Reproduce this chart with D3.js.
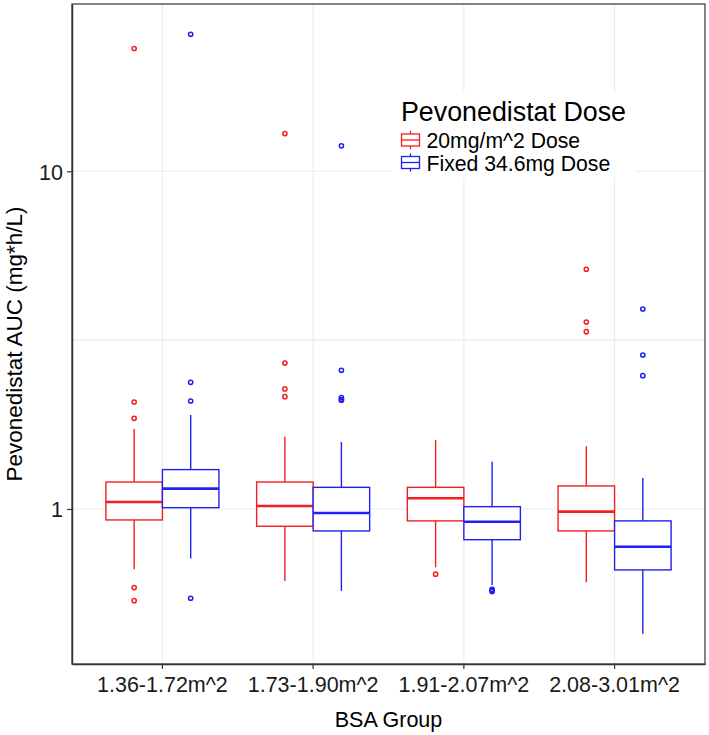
<!DOCTYPE html>
<html>
<head>
<meta charset="utf-8">
<script src="https://cdn.jsdelivr.net/npm/d3@7"></script>
<style>
  html, body { margin: 0; padding: 0; background: #fff; }
  svg { display: block; font-family: "Liberation Sans", Arial, sans-serif; }
</style>
</head>
<body>
<svg id="chart" width="709" height="735"></svg>
<script>
// ---- data ----
const categories = ["1.36-1.72m^2", "1.73-1.90m^2", "1.91-2.07m^2", "2.08-3.01m^2"];
const doses = ["20mg/m^2 Dose", "Fixed 34.6mg Dose"];
const doseColors = ["#f21f1f", "#2020f0"];

// 20mg/m^2 Dose (red)
const redLower  = [0.663, 0.612, 0.672, 0.607];
const redQ1     = [0.928, 0.889, 0.922, 0.861];
const redMedian = [1.049, 1.021, 1.076, 0.982];
const redQ3     = [1.202, 1.202, 1.159, 1.170];
const redUpper  = [1.725, 1.637, 1.601, 1.533];
const redOutliers = [
  [23.1, 2.074, 1.856, 0.585, 0.535],
  [12.93, 2.705, 2.267, 2.150],
  [0.641],
  [5.127, 3.579, 3.350]
];

// Fixed 34.6mg Dose (blue)
const blueLower  = [0.714, 0.572, 0.596, 0.427];
const blueQ1     = [1.009, 0.861, 0.811, 0.660];
const blueMedian = [1.149, 0.973, 0.917, 0.773];
const blueQ3     = [1.308, 1.159, 1.016, 0.922];
const blueUpper  = [1.898, 1.579, 1.381, 1.235];
const blueOutliers = [
  [25.45, 2.372, 2.088, 0.544],
  [11.9, 2.575, 2.136, 2.110, 2.100],
  [0.578, 0.574, 0.570],
  [3.91, 2.858, 2.481]
];

const yTicks = [1, 10];
const yMinorGrid = [Math.sqrt(10)];
const xTitle = "BSA Group";
const yTitle = "Pevonedistat AUC (mg*h/L)";
const legendTitle = "Pevonedistat Dose";

// ---- build ----
const series = [
  {lower: redLower, q1: redQ1, median: redMedian, q3: redQ3, upper: redUpper, outliers: redOutliers},
  {lower: blueLower, q1: blueQ1, median: blueMedian, q3: blueQ3, upper: blueUpper, outliers: blueOutliers}
];

const svg = d3.select("#chart");
const panel = {left: 72, right: 705, top: 4, bottom: 664};

const x = d3.scaleBand().domain(categories).range([panel.left, panel.right]).paddingInner(0).paddingOuter(0.1);
const step = x.step();
const xSub = d3.scaleBand().domain(doses).range([-0.375 * step, 0.375 * step]);
const y = d3.scaleLog().domain([0.3475, 31.29]).range([panel.bottom, panel.top]);

// panel background
svg.append("rect").attr("x", panel.left).attr("y", panel.top)
  .attr("width", panel.right - panel.left).attr("height", panel.bottom - panel.top)
  .attr("fill", "#fff");

// grid
const grid = svg.append("g").attr("stroke", "#ebebeb").attr("stroke-width", 1.1);
yTicks.concat(yMinorGrid).forEach(v => {
  grid.append("line").attr("x1", panel.left).attr("x2", panel.right)
    .attr("y1", y(v)).attr("y2", y(v));
});
categories.forEach(c => {
  const cx = x(c) + x.bandwidth() / 2;
  grid.append("line").attr("x1", cx).attr("x2", cx).attr("y1", panel.top).attr("y2", panel.bottom);
});

// boxes
const boxes = svg.append("g");
categories.forEach((c, i) => {
  const cx = x(c) + x.bandwidth() / 2;
  series.forEach((s, k) => {
    const col = doseColors[k];
    const bx = cx + xSub(doses[k]);
    const bw = xSub.bandwidth();
    const mx = bx + bw / 2;
    const g = boxes.append("g").attr("stroke", col).attr("fill", "none");
    g.append("line").attr("x1", mx).attr("x2", mx).attr("y1", y(s.q3[i])).attr("y2", y(s.upper[i])).attr("stroke-width", 1.4);
    g.append("line").attr("x1", mx).attr("x2", mx).attr("y1", y(s.q1[i])).attr("y2", y(s.lower[i])).attr("stroke-width", 1.4);
    g.append("rect").attr("x", bx).attr("y", y(s.q3[i])).attr("width", bw)
      .attr("height", y(s.q1[i]) - y(s.q3[i])).attr("fill", "#fff").attr("stroke-width", 1.4);
    g.append("line").attr("x1", bx).attr("x2", bx + bw).attr("y1", y(s.median[i])).attr("y2", y(s.median[i])).attr("stroke-width", 2.6);
    s.outliers[i].forEach(v => {
      g.append("circle").attr("cx", mx).attr("cy", y(v)).attr("r", 2.1).attr("stroke-width", 1.5);
    });
  });
});

// panel border
svg.append("rect").attr("x", panel.left).attr("y", panel.top)
  .attr("width", panel.right - panel.left).attr("height", panel.bottom - panel.top)
  .attr("fill", "none").attr("stroke", "#333").attr("stroke-width", 1.2);

// axes
const yAxis = svg.append("g").attr("transform", `translate(${panel.left},0)`)
  .call(d3.axisLeft(y).tickValues(yTicks).tickFormat(d3.format("d")).tickSizeInner(5).tickSizeOuter(0).tickPadding(4));
const xAxis = svg.append("g").attr("transform", `translate(0,${panel.bottom})`)
  .call(d3.axisBottom(x).tickSizeInner(5).tickSizeOuter(0).tickPadding(6));
[yAxis, xAxis].forEach(a => {
  a.select(".domain").attr("stroke", "#333").attr("stroke-width", 1.5);
  a.selectAll(".tick line").attr("stroke", "#333").attr("stroke-width", 1.2);
  a.selectAll(".tick text").attr("fill", "#1a1a1a").style("font-size", "21.5px")
    .style("font-family", "'Liberation Sans', Arial, sans-serif");
});
xAxis.selectAll(".tick text").attr("dy", "0.8em");
yAxis.selectAll(".tick text").attr("dy", "0.36em");

// axis titles
svg.append("text").attr("x", (panel.left + panel.right) / 2).attr("y", 726.5)
  .attr("text-anchor", "middle").attr("font-size", 21.5).attr("fill", "#000").text(xTitle);
svg.append("text").attr("transform", `translate(22,344) rotate(-90)`)
  .attr("text-anchor", "middle").attr("font-size", 22.5).attr("fill", "#000").text(yTitle);

// legend
const lg = svg.append("g");
lg.append("rect").attr("x", 392).attr("y", 92).attr("width", 244).attr("height", 85).attr("fill", "#fff");
lg.append("text").attr("x", 401).attr("y", 120.5).attr("font-size", 26.8).attr("fill", "#000").text(legendTitle);
doses.forEach((d, k) => {
  const cy = 140 + k * 22.5;
  const kx = 401.5, kw = 18;
  const g = lg.append("g").attr("stroke", doseColors[k]).attr("fill", "none").attr("stroke-width", 1.3);
  g.append("line").attr("x1", kx + kw / 2).attr("x2", kx + kw / 2).attr("y1", cy - 9).attr("y2", cy + 9);
  g.append("rect").attr("x", kx).attr("y", cy - 6).attr("width", kw).attr("height", 12).attr("fill", "#fff");
  g.append("line").attr("x1", kx).attr("x2", kx + kw).attr("y1", cy).attr("y2", cy);
  lg.append("text").attr("x", 426.5).attr("y", cy + 8).attr("font-size", 21.2).attr("fill", "#000").text(d);
});
</script>
</body>
</html>
